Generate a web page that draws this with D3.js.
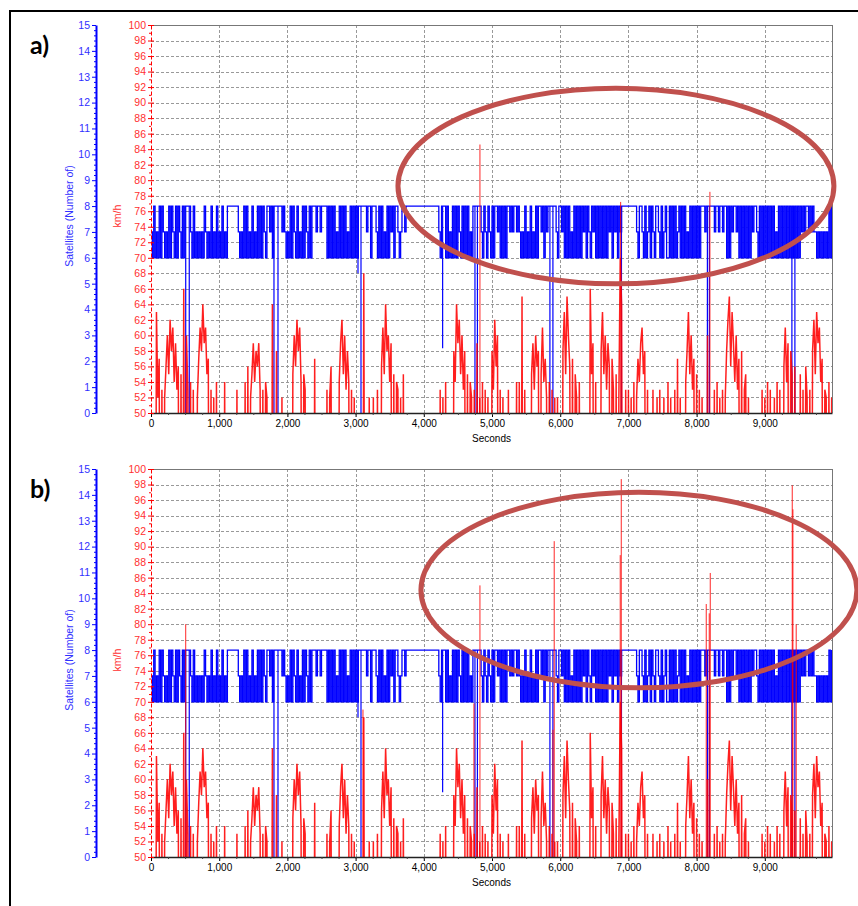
<!DOCTYPE html>
<html>
<head>
<meta charset="utf-8">
<script src="https://cdn.jsdelivr.net/npm/d3@7"></script>
<style>
  body { margin: 0; background: #fff; }
  svg { display: block; font-family: "Liberation Sans", Arial, sans-serif; }
</style>
</head>
<body>
<svg id="chart" width="858" height="906"></svg>
<script>
// one sample every 20 s, one row per 1000 s
const step = 20;

// satellites in view, one digit per sample (same log in both runs)
const satRows = [
    "7686768687676868768687686" + "8888" + "768676767687676867686",
    "7686768" + "8888888" + "7676868676867686868768" + "878688888878" + "76",
    "7686876867686876868" + "8878878888" + "686868676868686768686",
    "86" + "8888" + "88788688" + "876868676868786887678878" + "888888888888",
    "88888888888" + "7688" + "8686768686876868686768" + "8888" + "876876876",
    "86887868686887878878" + "767686768676868" + "878687888888768",
    "878" + "6868676868686" + "8786876878" + "686868686" + "87868786878" + "8" + "888",
    "888888" + "76887686786876887686786" + "686868678686867686868",
    "6868" + "8878" + "888" + "88788788788686878878" + "686868686" + "87887" + "68686",
    "86868686768686868686" + "868" + "6868" + "7878878787" + "7676767676868"
];

// brief satellite dropouts [seconds, satellites]
const satDrops = [[509, 0], [561, 0], [1803, 0], [1862, 0], [3035, 5.4], [3079, 0], [4276, 2.5],
    [4750, 0], [4786, 0], [5849, 0], [5893, 0], [6898, 0], [8158, 0], [8187, 0], [9397, 0], [9441, 0]];

// speed in km/h (0 = below the 50 km/h floor of the axis)
const speedRows = [
    [0,0,0,0,63,52,57,0,53,0, 52,56,60,55,62,58,61,54,59,53, 56,0,55,0,66,0,60,53,0,54, 0,53,0,0,52,57,61,58,64,59, 61,55,57,0,53,0,52,0,54,0],
    [0,0,0,0,54,0,0,0,0,0, 0,0,0,53,0,0,0,0,0,54, 0,56,0,52,55,59,54,58,56,59, 53,0,53,0,54,52,0,0,0,64, 0,0,58,0,0,0,52,0,0,0],
    [0,0,0,0,55,60,56,62,58,61, 54,0,55,53,0,0,0,0,0,0, 57,0,0,0,0,0,0,0,0,53, 0,52,56,0,0,0,0,0,54,59, 62,55,60,53,58,54,0,53,0,52],
    [0,0,0,0,0,0,68,0,0,0, 52,0,0,52,0,0,53,0,0,56, 61,55,64,58,60,54,59,0,55,0, 54,53,0,52,0,55,0,0,0,0, 0,0,0,0,0,0,0,0,0,0],
    [0,0,0,0,0,0,0,0,0,0, 0,0,53,0,52,0,54,0,0,0, 0,0,58,54,64,59,62,55,60,53, 58,0,55,0,54,52,0,53,0,59, 0,52,0,54,0,53,0,52,0,0],
    [58,53,62,56,60,0,53,0,52,0, 0,0,53,0,0,0,0,0,54,0, 54,0,65,0,53,0,0,0,0,55, 59,53,60,56,58,0,55,61,54,57, 52,0,54,0,53,0,52,0,52,0],
    [0,0,58,63,55,65,60,56,0,57, 0,55,52,0,54,0,0,0,0,0, 0,0,66,55,59,0,54,0,0,0, 58,63,55,60,53,59,56,0,57,53, 0,55,0,52,70,64,0,0,53,0],
    [53,0,52,0,54,0,52,57,54,59, 61,55,58,0,53,0,0,0,53,0, 0,52,0,53,0,0,52,0,0,54, 0,52,0,0,53,0,57,0,52,0, 0,0,54,58,63,55,60,53,57,0],
    [55,0,53,0,52,0,0,0,60,0, 0,0,0,53,0,54,0,52,0,53, 0,52,58,62,65,56,63,59,54,60, 53,57,0,58,0,53,55,0,52,0, 0,0,0,0,0,0,0,0,53,0],
    [52,0,54,0,53,0,0,52,0,54, 0,53,0,0,56,61,54,59,0,58, 55,0,56,0,0,0,55,0,53,0, 56,52,0,53,0,58,62,55,63,59, 61,54,57,0,53,52,0,54,0,52]
];

// single-sample speed outliers [seconds, km/h]
const spikesA = [[4823, 84.6], [6886, 77.2], [8195, 78.5]];
const spikesB = [[509, 80], [3108, 69], [4735, 69.8], [4823, 85], [5893, 66.4], [5912, 90.7],
    [6880, 88.9], [6895, 98.7], [8141, 82.6], [8185, 81.4], [8200, 86.6], [9402, 97.9],
    [9412, 94.8], [9460, 80]];

// highlighted regions [centre seconds, centre km/h, half width s, half height km/h]
const ringA = [6817, 79.25, 3196, 12.6];
const ringB = [7154, 84.4, 3196, 12.6];

const xTicks = d3.range(0, 10000, 1000);
const kmhTicks = d3.range(50, 101, 2);
const satTicks = d3.range(0, 16, 1);

const sat = satRows.flatMap((row, r) => row.split("").map((c, j) => ({t: r * 1000 + j * step, v: +c})));
const speed = speedRows.flatMap((row, r) => row.map((v, j) => ({t: r * 1000 + j * step, v: v})));

const svg = d3.select("#chart");
const L = 151, R = 832, H = 388;
const font = "Liberation Sans, Arial, sans-serif";

const x = d3.scaleLinear().domain([0, 9985]).range([L, R]);
const yKmh = d3.scaleLinear().domain([50, 100]).range([H, 0]);
const ySat = d3.scaleLinear().domain([0, 15]).range([H, 0]);

// outer frame (only top and left edges visible)
svg.append("path").attr("d", "M10,906V11H858").attr("fill", "none")
    .attr("stroke", "#000").attr("stroke-width", 2);

function styleAxis(sel, color, size) {
    sel.attr("font-family", font).attr("font-size", size);
    sel.selectAll("text").attr("fill", color);
    sel.selectAll(".tick line").attr("stroke", color);
}

function drawPanel(top, id, tag, spikes, ring) {
    const g = svg.append("g").attr("transform", `translate(0,${top})`);
    const clipId = "clip" + id;
    g.append("clipPath").attr("id", clipId).append("rect")
        .attr("x", L).attr("y", 0).attr("width", R - L).attr("height", H);

    // dashed grid
    const grid = g.append("g").attr("stroke", "#999").attr("stroke-dasharray", "3,2")
        .attr("shape-rendering", "crispEdges");
    grid.selectAll(".h").data(kmhTicks.filter(d => d > 50 && d < 100)).join("line")
        .attr("x1", L).attr("x2", R)
        .attr("y1", d => Math.round(yKmh(d)) + 0.5).attr("y2", d => Math.round(yKmh(d)) + 0.5);
    grid.selectAll(".v").data(xTicks.filter(d => d > 0)).join("line")
        .attr("y1", 0).attr("y2", H)
        .attr("x1", d => Math.round(x(d)) + 0.5).attr("x2", d => Math.round(x(d)) + 0.5);

    // frame top and right
    g.append("path").attr("d", `M${L},0.5H${R + 0.5}V${H}`).attr("fill", "none")
        .attr("stroke", "#777").attr("shape-rendering", "crispEdges");

    const plot = g.append("g").attr("clip-path", `url(#${clipId})`);

    // satellites
    plot.append("path").datum(sat)
        .attr("fill", "none").attr("stroke", "#0000ff").attr("stroke-width", 1.3)
        .attr("d", d3.line().x(d => x(d.t)).y(d => ySat(d.v)).curve(d3.curveStepAfter));
    plot.append("g").selectAll("line").data(satDrops).join("line")
        .attr("x1", d => x(d[0])).attr("x2", d => x(d[0]))
        .attr("y1", ySat(8)).attr("y2", d => ySat(d[1]))
        .attr("stroke", "#0000ff").attr("stroke-width", 1.2);

    // speed
    plot.append("path").datum(speed)
        .attr("fill", "none").attr("stroke", "#ff0000").attr("stroke-opacity", 0.88)
        .attr("stroke-width", 1.5).attr("stroke-linejoin", "bevel")
        .attr("d", d3.line().x(d => x(d.t)).y(d => yKmh(d.v)));
    plot.append("g").selectAll("line").data(spikes).join("line")
        .attr("x1", d => x(d[0])).attr("x2", d => x(d[0]))
        .attr("y1", yKmh(50)).attr("y2", d => yKmh(d[1]))
        .attr("stroke", "#ff0000").attr("stroke-opacity", 0.85).attr("stroke-width", 1);

    // x axis
    const xa = g.append("g").attr("transform", `translate(0,${H})`)
        .call(d3.axisBottom(x).tickValues(xTicks).tickFormat(d3.format(",")).tickSize(4).tickSizeOuter(0).tickPadding(3));
    styleAxis(xa, "#000", 10);
    xa.select(".domain").attr("stroke", "#222").attr("stroke-width", 1.5);
    g.append("g").attr("transform", `translate(0,${H})`)
        .call(d3.axisBottom(x).tickValues(d3.range(250, 10000, 250)).tickFormat("").tickSize(2).tickSizeOuter(0))
        .call(s => s.select(".domain").remove())
        .selectAll("line").attr("stroke", "#444");
    g.append("text").attr("x", (L + R) / 2).attr("y", H + 29).attr("text-anchor", "middle")
        .attr("font-family", font).attr("font-size", 10).text("Seconds");

    // km/h axis
    const ka = g.append("g").attr("transform", `translate(${L},0)`)
        .call(d3.axisLeft(yKmh).tickValues(kmhTicks).tickSize(3).tickSizeOuter(0).tickPadding(2));
    styleAxis(ka, "#ff3030", 10.5);
    ka.selectAll(".tick line").attr("x1", 3).attr("stroke", "#ff0000");
    ka.select(".domain").attr("stroke", "#ff0000").attr("stroke-dasharray", "4,2");
    g.append("g").attr("transform", `translate(${L},0)`)
        .call(d3.axisLeft(yKmh).tickValues(d3.range(51, 100, 2)).tickFormat("").tickSize(2).tickSizeOuter(0))
        .call(s => s.select(".domain").remove())
        .selectAll("line").attr("stroke", "#ff0000");
    g.append("text").attr("transform", `translate(121,${H / 2 - 3}) rotate(-90)`)
        .attr("text-anchor", "middle").attr("font-family", font).attr("font-size", 10.5)
        .attr("fill", "#ff3030").text("km/h");

    // satellites axis
    const sa = g.append("g").attr("transform", "translate(96,0)")
        .call(d3.axisLeft(ySat).tickValues(satTicks).tickFormat(d3.format("d")).tickSize(4).tickSizeOuter(0).tickPadding(2));
    styleAxis(sa, "#3030ff", 10.5);
    sa.selectAll(".tick line").attr("stroke", "#0000ff");
    sa.select(".domain").attr("stroke", "#0000ff").attr("stroke-width", 2);
    g.append("g").attr("transform", "translate(96,0)")
        .call(d3.axisLeft(ySat).tickValues(d3.range(0, 75).map(d => d / 5).filter(d => d % 1 !== 0)).tickFormat("").tickSize(2).tickSizeOuter(0))
        .call(s => s.select(".domain").remove())
        .selectAll("line").attr("stroke", "#0000ff");
    g.append("text").attr("transform", `translate(73,${H / 2 - 3}) rotate(-90)`)
        .attr("text-anchor", "middle").attr("font-family", font).attr("font-size", 10.5)
        .attr("fill", "#3030ff").text("Satellites (Number of)");

    // panel tag
    g.append("text").attr("x", 30).attr("y", 29).attr("font-family", "Lato, 'Open Sans', sans-serif")
        .attr("font-weight", "bold").attr("font-size", 25).attr("fill", "#000").text(tag);

    // highlight ring
    g.append("ellipse")
        .attr("cx", x(ring[0])).attr("cy", yKmh(ring[1]))
        .attr("rx", x(ring[0] + ring[2]) - x(ring[0]))
        .attr("ry", yKmh(ring[1] - ring[3]) - yKmh(ring[1]))
        .attr("fill", "none").attr("stroke", "#c0504d").attr("stroke-width", 5);
}

drawPanel(25, "A", "a)", spikesA, ringA);
drawPanel(469, "B", "b)", spikesB, ringB);
</script>
</body>
</html>
